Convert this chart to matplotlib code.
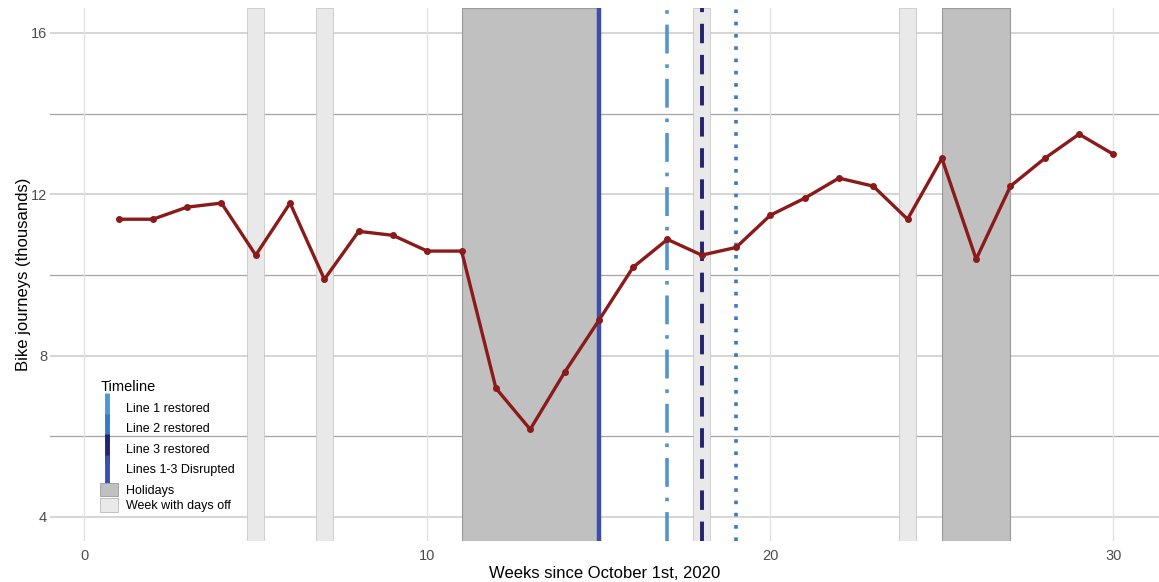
import matplotlib.pyplot as plt
from matplotlib.lines import Line2D
from matplotlib.patches import Patch

plt.rcParams['font.family'] = ['Liberation Sans', 'DejaVu Sans']

# weekly bike journeys (thousands)
weeks = list(range(1, 31))
journeys = [11.38, 11.38, 11.68, 11.78, 10.49, 11.78, 9.89, 11.08, 10.98, 10.59,
            10.59, 7.19, 6.17, 7.58, 8.87, 10.19, 10.88, 10.49, 10.68, 11.48,
            11.90, 12.40, 12.20, 11.38, 12.89, 10.39, 12.20, 12.89, 13.49, 12.99]

# shaded periods (start, end)
holidays = [(11, 15), (25, 27)]
days_off = [(4.75, 5.25), (6.75, 7.25), (17.75, 18.25), (23.75, 24.25)]

# timeline events
events = ['Line 1 restored', 'Line 2 restored', 'Line 3 restored', 'Lines 1-3 Disrupted']
event_week = [17, 19, 18, 15]
event_color = ['#5495CF', '#3A78C2', '#23236E', '#3A4FAE']
event_style = [(0, (8, 3, 1, 3)), (0, (1, 2.4)), (0, (5, 3)), '-']
event_width = [2.6, 2.6, 2.8, 3.2]

fig = plt.figure(figsize=(11.59, 5.82), dpi=100)
ax = fig.add_axes([0.0431, 0.0704, 0.9569, 0.916])

ax.set_xlim(-1.0, 31.33)
ax.set_ylim(3.40, 16.62)

# grid
for y in [4, 8, 12, 16]:
    ax.axhline(y, color='#CACACA', lw=1.1, zorder=0)
for y in [6, 10, 14]:
    ax.axhline(y, color='#A8A2A2', lw=0.9, zorder=0)
for x in [0, 10, 20, 30]:
    ax.axvline(x, color='#E2E2E2', lw=1.0, zorder=0)

for a, b in holidays:
    ax.axvspan(a, b, facecolor='#C1C0C0', edgecolor='#9A9A9A', lw=0.8, zorder=1)
for a, b in days_off:
    ax.axvspan(a, b, facecolor='#E8E9E8', edgecolor='#C8C8C8', lw=0.6, zorder=1)

for w, c, ls, lw in zip(event_week, event_color, event_style, event_width):
    ax.axvline(w, color=c, ls=ls, lw=lw, zorder=2)

ax.plot(weeks, journeys, color='#8B1A1A', lw=2.4, marker='o', markersize=4, zorder=3)

ax.set_xticks([0, 10, 20, 30])
ax.set_yticks([4, 8, 12, 16])
ax.tick_params(length=0, labelsize=10.5, labelcolor='#4D4D4D', pad=2)
ax.tick_params(axis='x', pad=6)
for s in ax.spines.values():
    s.set_visible(False)
ax.set_xlabel('Weeks since October 1st, 2020', fontsize=12, labelpad=2)
ax.set_ylabel('Bike journeys (thousands)', fontsize=12, labelpad=0)

# legends
h1 = [Line2D([], [], color=c, marker='|', markersize=20, markeredgewidth=3.5, ls='None')
      for c in event_color]
leg1 = ax.legend(h1, events, title='Timeline', loc='upper left',
                 bbox_to_anchor=(0.038, 0.318), frameon=False, fontsize=9,
                 title_fontsize=10.5, handlelength=1.0, handletextpad=1.0,
                 labelspacing=0.68, borderpad=0.2)
leg1._legend_box.align = 'left'
ax.add_artist(leg1)

h2 = [Patch(facecolor='#C1C0C0', edgecolor='#9A9A9A', lw=0.6),
      Patch(facecolor='#E8E9E8', edgecolor='#B8B8B8', lw=0.6)]
ax.legend(h2, ['Holidays', 'Week with days off'], loc='upper left',
          bbox_to_anchor=(0.037, 0.126), frameon=False, fontsize=9,
          handlelength=1.5, handleheight=1.3, handletextpad=0.6,
          labelspacing=0.15, borderpad=0.2)

fig.savefig('out.png', dpi=100)
